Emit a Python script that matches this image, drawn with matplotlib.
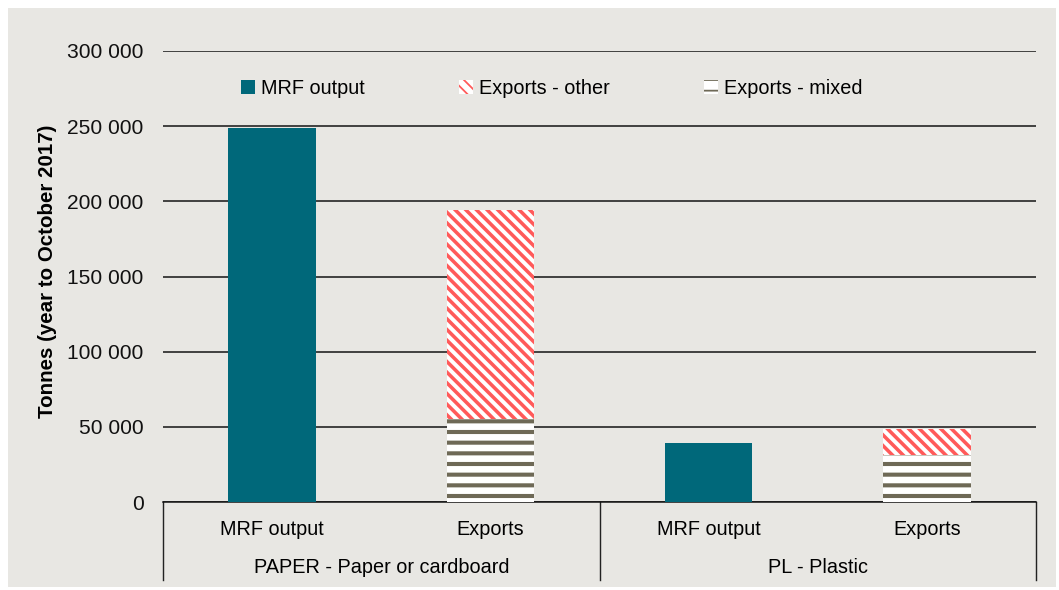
import matplotlib
matplotlib.use('Agg')
import matplotlib.pyplot as plt
from matplotlib.patches import Rectangle, Patch
from matplotlib.lines import Line2D
from matplotlib.ticker import FuncFormatter

plt.rcParams['font.family'] = ['Liberation Sans', 'DejaVu Sans']

# data
categories = ['MRF output', 'Exports', 'MRF output', 'Exports']
groups = ['PAPER - Paper or cardboard', 'PL - Plastic']
mrf_pos = [0, 2]
mrf_output = [249000, 39000]
exp_pos = [1, 3]
exports_mixed = [55000, 31000]
exports_other = [139500, 17500]
yticks = [0, 50000, 100000, 150000, 200000, 250000, 300000]

TEAL = '#00687A'
RED = '#FF5A5A'
MIXED = '#6E6956'
BG = '#E8E7E3'

DPI = 128
fig = plt.figure(figsize=(1059 / DPI, 590 / DPI), dpi=DPI, facecolor='white')
fig.patches.append(Rectangle((8 / 1059, 3 / 590), 1048 / 1059, 579 / 590,
                             transform=fig.transFigure, facecolor=BG,
                             edgecolor='none', zorder=-10))

ax = fig.add_axes([163 / 1059, 1 - 502 / 590, 873 / 1059, 451 / 590])
ax.set_facecolor('none')

ax.bar(mrf_pos, mrf_output, width=0.4, color=TEAL, linewidth=0, zorder=3)

with plt.rc_context({'hatch.linewidth': 2.3}):
    ax.bar(exp_pos, exports_mixed, width=0.4, color='white', edgecolor=MIXED,
           hatch='--', linewidth=0, zorder=3)
with plt.rc_context({'hatch.linewidth': 2.0}):
    ax.bar(exp_pos, exports_other, bottom=exports_mixed, width=0.4, color='white',
           edgecolor=RED, hatch='\\\\\\\\', linewidth=0, zorder=3)

ax.set_xlim(-0.5, 3.5)
ax.set_ylim(0, 300000)
ax.set_yticks(yticks)
ax.yaxis.set_major_formatter(FuncFormatter(lambda v, p: f'{v:,.0f}'.replace(',', ' ')))
ax.tick_params(axis='y', length=0, pad=11, labelsize=11.8, colors='#111111')
ax.set_xticks([])
ax.grid(axis='y', color='#111111', linewidth=0.85, zorder=1)
ax.set_axisbelow(True)
for s in ['top', 'right', 'left']:
    ax.spines[s].set_visible(False)
ax.spines['bottom'].set_color('#111111')
ax.spines['bottom'].set_linewidth(0.85)

ax.set_ylabel('Tonnes (year to October 2017)', fontsize=11.5, fontweight='bold')
ax.yaxis.set_label_coords(-0.121, 0.512)

# two-level category axis
trans = ax.get_xaxis_transform()
for i, c in enumerate(categories):
    ax.text(i, -0.06, c, transform=trans, ha='center', va='center', fontsize=11.2)
for g, name in enumerate(groups):
    ax.text(2 * g + 0.5, -0.146, name, transform=trans, ha='center', va='center', fontsize=11.2)
for xs in [-0.5, 1.5, 3.5]:
    ax.add_line(Line2D([xs, xs], [0, -0.173], transform=trans, color='#222222',
                       linewidth=0.8, clip_on=False))

# legend
with plt.rc_context({'hatch.linewidth': 1.6}):
    handles = [Patch(facecolor=TEAL, linewidth=0),
               Patch(facecolor='white', edgecolor=RED, hatch='\\\\\\\\', linewidth=0),
               Patch(facecolor='white', edgecolor=MIXED, hatch='--', linewidth=0)]
fig.legend(handles, ['MRF output', 'Exports - other', 'Exports - mixed'],
           loc='upper left', bbox_to_anchor=(241 / 1059, 1 - 79 / 590),
           ncol=3, frameon=False, fontsize=11.2, handlelength=0.7, handleheight=0.7,
           handletextpad=0.3, columnspacing=4.75, borderpad=0, borderaxespad=0)

fig.savefig('out.png', dpi=DPI, facecolor='white')
